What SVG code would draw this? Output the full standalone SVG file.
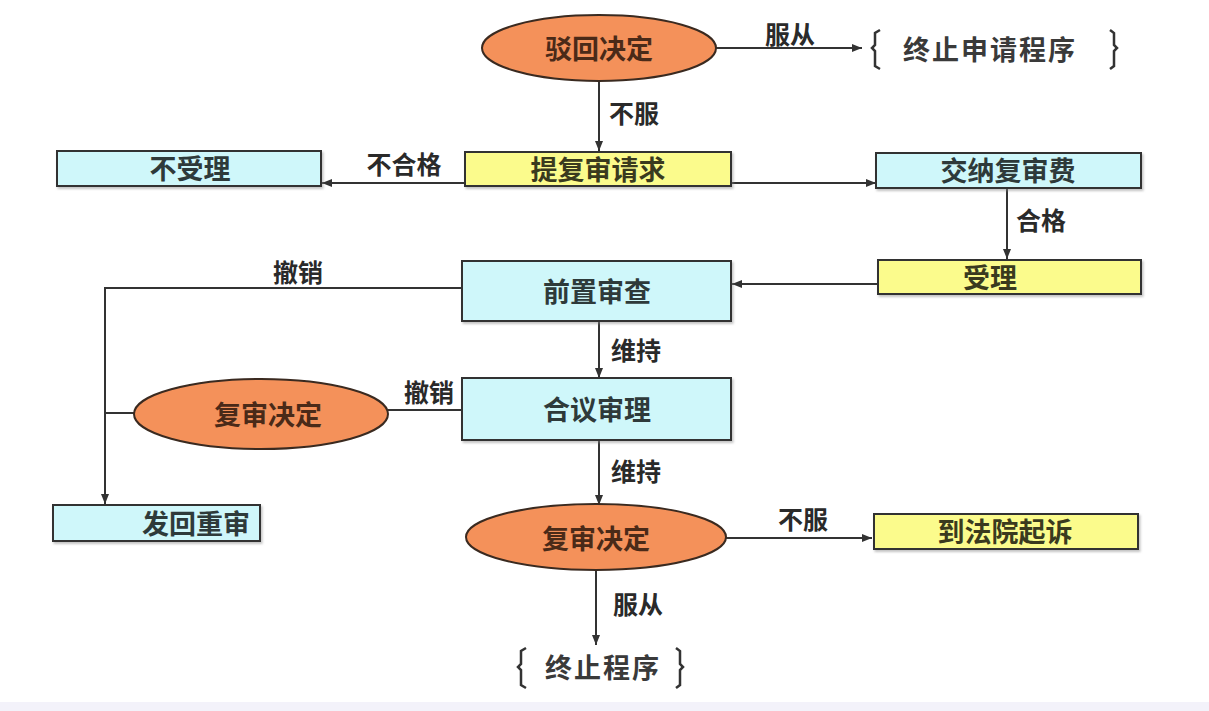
<svg xmlns="http://www.w3.org/2000/svg" width="1209" height="711" viewBox="0 0 1209 711">
<defs>
<marker id="arr" viewBox="0 0 10 10" refX="10" refY="5" markerWidth="10" markerHeight="10" markerUnits="userSpaceOnUse" orient="auto">
<path d="M0,1 L10,5 L0,9 Z" fill="#333"/>
</marker>
<filter id="sh" x="-5%" y="-20%" width="110%" height="140%">
<feDropShadow dx="1.5" dy="2" stdDeviation="1" flood-color="#888" flood-opacity="0.5"/>
</filter>
</defs>
<style>
text{font-family:"Noto Sans CJK SC","Noto Sans",sans-serif;font-weight:bold;text-anchor:middle;dominant-baseline:central}
.box{stroke:#333;stroke-width:2;filter:url(#sh)}
.cy{fill:#CFF7FA}
.ye{fill:#FBFB8C}
.ell{fill:#F4915A;stroke:#3a2a20;stroke-width:2}
.nt{font-size:27px;fill:#2E3A3A}
.yt{font-size:27px;fill:#3A3A1E}
.et{font-size:27px;fill:#4A2A18}
.lb{font-size:25px;fill:#2a2a2a}
.br{fill:none;stroke:#333;stroke-width:2.5}
.ln{fill:none;stroke:#333;stroke-width:2}
.bt{font-size:27px;fill:#3a3a3a}
</style>
<rect x="0" y="0" width="1209" height="711" fill="#FFFFFF"/>
<rect x="0" y="702" width="1209" height="9" fill="#F3F2FA"/>

<g id="connectors">
<line class="ln" x1="716" y1="48" x2="862" y2="48" marker-end="url(#arr)"/>
<text class="lb" x="790" y="33">服从</text>
<line class="ln" x1="599" y1="82" x2="599" y2="151" marker-end="url(#arr)"/>
<text class="lb" x="634" y="112">不服</text>
<line class="ln" x1="465" y1="183" x2="322" y2="183" marker-end="url(#arr)"/>
<text class="lb" x="404" y="163">不合格</text>
<line class="ln" x1="731" y1="183" x2="876" y2="183" marker-end="url(#arr)"/>
<line class="ln" x1="1007" y1="188" x2="1007" y2="259" marker-end="url(#arr)"/>
<text class="lb" x="1041" y="219">合格</text>
<line class="ln" x1="878" y1="284" x2="732" y2="284" marker-end="url(#arr)"/>
<polyline class="ln" points="462,288 105,288 105,504" marker-end="url(#arr)"/>
<text class="lb" x="298" y="271">撤销</text>
<line class="ln" x1="599" y1="321" x2="599" y2="378" marker-end="url(#arr)"/>
<text class="lb" x="636" y="349">维持</text>
<line class="ln" x1="462" y1="410" x2="388" y2="410"/>
<text class="lb" x="429" y="391">撤销</text>
<line class="ln" x1="134" y1="413" x2="105" y2="413"/>
<line class="ln" x1="599" y1="440" x2="599" y2="505" marker-end="url(#arr)"/>
<text class="lb" x="636" y="470">维持</text>
<line class="ln" x1="726" y1="538" x2="872" y2="538" marker-end="url(#arr)"/>
<text class="lb" x="803" y="518">不服</text>
<line class="ln" x1="596" y1="570" x2="596" y2="645" marker-end="url(#arr)"/>
<text class="lb" x="638" y="603">服从</text>
</g>

<g id="n-bohui">
<ellipse class="ell" cx="599" cy="48" rx="117" ry="33"/>
<text class="et" x="599" y="47">驳回决定</text>
</g>

<g id="n-zhongzhi1">
<path class="br" d="M880,30 L875,33 L875,45 L872,48 L875,51 L875,66 L880,69"/>
<text class="bt" x="990" y="48" letter-spacing="2">终止申请程序</text>
<path class="br" d="M1110,30 L1114,33 L1114,45 L1117,48 L1114,51 L1114,66 L1110,69"/>
</g>

<g id="n-bushouli">
<rect class="box cy" x="57" y="151" width="264" height="35"/>
<text class="nt" x="190" y="167">不受理</text>
</g>

<g id="n-tifushen">
<rect class="box ye" x="465" y="152" width="266" height="34"/>
<text class="yt" x="598" y="168">提复审请求</text>
</g>

<g id="n-jiaona">
<rect class="box cy" x="876" y="153" width="265" height="35"/>
<text class="nt" x="1008" y="169">交纳复审费</text>
</g>

<g id="n-shouli">
<rect class="box ye" x="878" y="260" width="263" height="34"/>
<text class="yt" x="990" y="276">受理</text>
</g>

<g id="n-qianzhi">
<rect class="box cy" x="462" y="261" width="269" height="60"/>
<text class="nt" x="597" y="290">前置审查</text>
</g>

<g id="n-heyi">
<rect class="box cy" x="462" y="378" width="269" height="62"/>
<text class="nt" x="597" y="408">合议审理</text>
</g>

<g id="n-fushen1">
<ellipse class="ell" cx="261" cy="414" rx="127" ry="35"/>
<text class="et" x="268" y="413">复审决定</text>
</g>

<g id="n-fahui">
<rect class="box cy" x="53" y="505" width="207" height="36"/>
<text class="nt" x="196" y="522">发回重审</text>
</g>

<g id="n-fushen2">
<ellipse class="ell" cx="596" cy="537" rx="130" ry="33"/>
<text class="et" x="596" y="537">复审决定</text>
</g>

<g id="n-fayuan">
<rect class="box ye" x="874" y="514" width="264" height="35"/>
<text class="yt" x="1005" y="530">到法院起诉</text>
</g>

<g id="n-zhongzhi2">
<path class="br" d="M526,648 L521,651 L521,664 L518,667 L521,670 L521,685 L526,688"/>
<text class="bt" x="603" y="666" letter-spacing="2">终止程序</text>
<path class="br" d="M676,648 L680,651 L680,664 L683,667 L680,670 L680,685 L676,688"/>
</g>
</svg>
